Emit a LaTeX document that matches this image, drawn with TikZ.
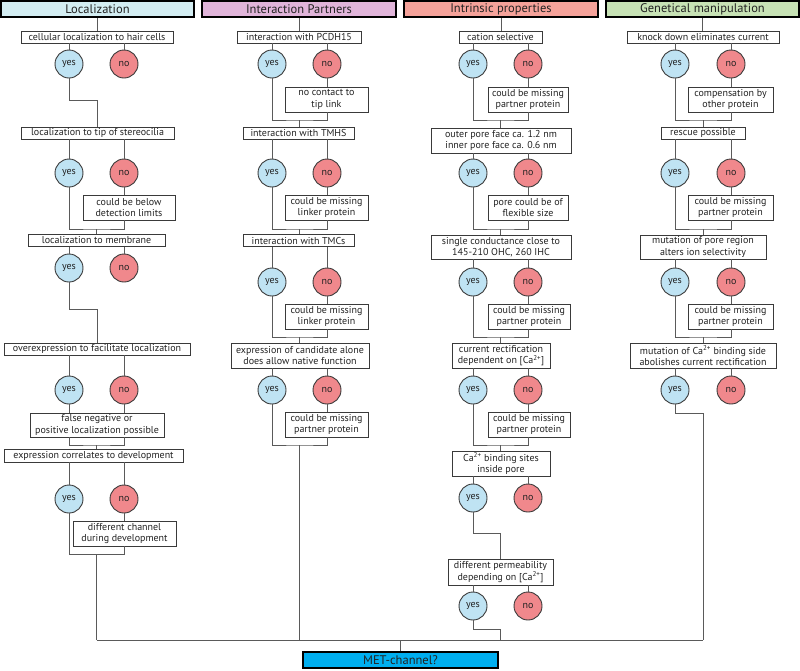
\documentclass[tikz,border=0pt]{standalone}
\usepackage{fontspec}
\setmainfont{PT Sans}
\definecolor{hLoc}{HTML}{D3EDF2}
\definecolor{hInt}{HTML}{E0B4D9}
\definecolor{hPro}{HTML}{F5A29A}
\definecolor{hGen}{HTML}{C7E2B5}
\definecolor{metc}{HTML}{00AEEF}
\definecolor{yesc}{HTML}{BFE3F3}
\definecolor{noc}{HTML}{F0888C}
\definecolor{wirec}{HTML}{5A5A5A}
\definecolor{boxc}{HTML}{3A3A3A}
\definecolor{txt}{HTML}{222222}
\newcommand{\bfs}{\fontsize{10}{11.5}\selectfont}
\newcommand{\hfs}{\fontsize{12.5}{14}\selectfont}
\newcommand{\cafs}{Ca\textsuperscript{2+}}
\tikzset{
  box/.style={draw=boxc, line width=0.9pt, fill=white, inner sep=0pt, align=center, font=\bfs, text=txt},
  hdr/.style={draw=black, line width=2pt, inner sep=0pt, font=\hfs, text=txt, minimum height=16pt},
  yesn/.style={circle, draw=boxc, line width=0.9pt, fill=yesc, minimum size=28pt, inner sep=0pt, font=\bfs, text=txt},
  non/.style={circle, draw=boxc, line width=0.9pt, fill=noc, minimum size=28pt, inner sep=0pt, font=\bfs, text=txt},
  wire/.style={draw=wirec, line width=1pt}
}
\begin{document}
\begin{tikzpicture}[x=1pt,y=-1pt]
\useasboundingbox (0,0) rectangle (800,670);
% ---------- headers ----------
\node[hdr, fill=hLoc, minimum width=193pt] (hL) at (97.5,9) {Localization};
\node[hdr, fill=hInt, minimum width=194pt] (hI) at (299,9) {Interaction Partners};
\node[hdr, fill=hPro, minimum width=194pt] (hP) at (501,9) {Intrinsic properties};
\node[hdr, fill=hGen, minimum width=193pt] (hG) at (702.5,9) {Genetical manipulation};
\node[hdr, fill=metc, minimum width=195pt] (MET) at (400.5,660) {MET-channel?};

% ---------- column 1: Localization ----------
\node[box, minimum width=152pt, minimum height=12pt] (L1) at (97,37) {cellular localization to hair cells};
\node[yesn] (L1y) at (69,64) {yes};
\node[non] (L1o) at (124,64) {no};
\node[box, minimum width=153pt, minimum height=12pt] (L2) at (97.5,133) {localization to tip of stereocilia};
\node[yesn] (L2y) at (69,173) {yes};
\node[non] (L2o) at (124,173) {no};
\node[box, minimum width=92pt, minimum height=25pt] (L2x) at (129,207.5) {could be below\\detection limits};
\node[box, minimum width=137pt, minimum height=12pt] (L3) at (96.5,240.5) {localization to membrane};
\node[yesn] (L3y) at (69,268) {yes};
\node[non] (L3o) at (124,268) {no};
\node[box, minimum width=186pt, minimum height=12pt] (L4) at (97,349) {overexpression to facilitate localization};
\node[yesn] (L4y) at (69,390) {yes};
\node[non] (L4o) at (124,390) {no};
\node[box, minimum width=134pt, minimum height=24pt] (L4x) at (97,425) {false negative or\\positive localization possible};
\node[box, minimum width=179pt, minimum height=13pt] (L5) at (93.5,455.5) {expression correlates to development};
\node[yesn] (L5y) at (69,499) {yes};
\node[non] (L5o) at (124,499) {no};
\node[box, minimum width=103pt, minimum height=25pt] (L5x) at (124.5,533.5) {different channel\\during development};

\draw[wire] (hL.south) -- (hL.south |- L1.north);
\draw[wire] (L1y.north |- L1.south) -- (L1y.north);
\draw[wire] (L1o.north |- L1.south) -- (L1o.north);
\coordinate (c1a) at (97.5,100);
\draw[wire] (L1y.south) |- (c1a) -- (c1a |- L2.north);
\draw[wire] (L2y.north |- L2.south) -- (L2y.north);
\draw[wire] (L2o.north |- L2.south) -- (L2o.north);
\draw[wire] (L2o.south) -- (L2o.south |- L2x.north);
\coordinate (c1b) at (96.5,229);
\draw[wire] (L2y.south) |- (c1b) -| (L2o.south |- L2x.south);
\draw[wire] (c1b) -- (c1b |- L3.north);
\draw[wire] (L3y.north |- L3.south) -- (L3y.north);
\draw[wire] (L3o.north |- L3.south) -- (L3o.north);
\coordinate (c1c) at (97,309);
\draw[wire] (L3y.south) |- (c1c) -- (c1c |- L4.north);
\draw[wire] (L4y.north |- L4.south) -- (L4y.north);
\draw[wire] (L4o.north |- L4.south) -- (L4o.north);
\draw[wire] (L4y.south) -- (L4y.south |- L4x.north);
\draw[wire] (L4o.south) -- (L4o.south |- L4x.north);
\coordinate (c1d) at (96.5,445);
\draw[wire] (L4y.south |- L4x.south) |- (c1d) -| (L4o.south |- L4x.south);
\draw[wire] (c1d) -- (c1d |- L5.north);
\draw[wire] (L5y.north |- L5.south) -- (L5y.north);
\draw[wire] (L5o.north |- L5.south) -- (L5o.north);
\draw[wire] (L5o.south) -- (L5o.south |- L5x.north);
\coordinate (c1e) at (96.5,554);
\draw[wire] (L5y.south) |- (c1e) -| (L5o.south |- L5x.south);
\coordinate (bus1) at (96.5,640);
\draw[wire] (c1e) -- (bus1);

% ---------- column 2: Interaction Partners ----------
\node[box, minimum width=124pt, minimum height=12pt] (I1) at (299,37) {interaction with PCDH15};
\node[yesn] (I1y) at (272,64) {yes};
\node[non] (I1o) at (327,64) {no};
\node[box, minimum width=83pt, minimum height=25pt] (I1x) at (326.5,99.5) {no contact to\\tip link};
\node[box, minimum width=111pt, minimum height=12pt] (I2) at (298.5,133) {interaction with TMHS};
\node[yesn] (I2y) at (272,173) {yes};
\node[non] (I2o) at (327,173) {no};
\node[box, minimum width=83pt, minimum height=25pt] (I2x) at (326.5,207.5) {could be missing\\linker protein};
\node[box, minimum width=111pt, minimum height=12pt] (I3) at (298.5,240.5) {interaction with TMCs};
\node[yesn] (I3y) at (272,282) {yes};
\node[non] (I3o) at (327,282) {no};
\node[box, minimum width=83pt, minimum height=25pt] (I3x) at (326.5,316.5) {could be missing\\linker protein};
\node[box, minimum width=138pt, minimum height=25pt] (I4) at (300,355.5) {expression of candidate alone\\does allow native function};
\node[yesn] (I4y) at (272,390) {yes};
\node[non] (I4o) at (327,390) {no};
\node[box, minimum width=83pt, minimum height=25pt] (I4x) at (326.5,424.5) {could be missing\\partner protein};

\draw[wire] (hI.south) -- (hI.south |- I1.north);
\draw[wire] (I1y.north |- I1.south) -- (I1y.north);
\draw[wire] (I1o.north |- I1.south) -- (I1o.north);
\draw[wire] (I1o.south) -- (I1o.south |- I1x.north);
\coordinate (c2a) at (299.5,120);
\draw[wire] (I1y.south) |- (c2a) -| (I1o.south |- I1x.south);
\draw[wire] (c2a) -- (c2a |- I2.north);
\draw[wire] (I2y.north |- I2.south) -- (I2y.north);
\draw[wire] (I2o.north |- I2.south) -- (I2o.north);
\draw[wire] (I2o.south) -- (I2o.south |- I2x.north);
\coordinate (c2b) at (299.5,229);
\draw[wire] (I2y.south) |- (c2b) -| (I2o.south |- I2x.south);
\draw[wire] (c2b) -- (c2b |- I3.north);
\draw[wire] (I3y.north |- I3.south) -- (I3y.north);
\draw[wire] (I3o.north |- I3.south) -- (I3o.north);
\draw[wire] (I3o.south) -- (I3o.south |- I3x.north);
\coordinate (c2c) at (299.5,337);
\draw[wire] (I3y.south) |- (c2c) -| (I3o.south |- I3x.south);
\draw[wire] (c2c) -- (c2c |- I4.north);
\draw[wire] (I4y.north |- I4.south) -- (I4y.north);
\draw[wire] (I4o.north |- I4.south) -- (I4o.north);
\draw[wire] (I4o.south) -- (I4o.south |- I4x.north);
\coordinate (c2d) at (299.5,445);
\draw[wire] (I4y.south) |- (c2d) -| (I4o.south |- I4x.south);
\coordinate (bus2) at (299.5,640);
\draw[wire] (c2d) -- (bus2);

% ---------- column 3: Intrinsic properties ----------
\node[box, minimum width=83pt, minimum height=12pt] (P1) at (500.5,37) {cation selective};
\node[yesn] (P1y) at (473,64) {yes};
\node[non] (P1o) at (528,64) {no};
\node[box, minimum width=80pt, minimum height=25pt] (P1x) at (528,99.5) {could be missing\\partner protein};
\node[box, minimum width=140pt, minimum height=25pt] (P2) at (501,140.5) {outer pore face ca. 1.2 nm\\inner pore face ca. 0.6 nm};
\node[yesn] (P2y) at (473,173) {yes};
\node[non] (P2o) at (528,173) {no};
\node[box, minimum width=80pt, minimum height=25pt] (P2x) at (528,207.5) {pore could be of\\flexible size};
\node[box, minimum width=140pt, minimum height=24pt] (P3) at (501,247) {single conductance close to\\145-210 OHC, 260 IHC};
\node[yesn] (P3y) at (473,282) {yes};
\node[non] (P3o) at (528,282) {no};
\node[box, minimum width=82pt, minimum height=25pt] (P3x) at (529,316.5) {could be missing\\partner protein};
\node[box, minimum width=98pt, minimum height=25pt] (P4) at (501,355.5) {current rectification\\dependent on [\cafs]};
\node[yesn] (P4y) at (473,390) {yes};
\node[non] (P4o) at (528,390) {no};
\node[box, minimum width=82pt, minimum height=25pt] (P4x) at (529,424.5) {could be missing\\partner protein};
\node[box, minimum width=98pt, minimum height=25pt] (P5) at (501,463.5) {\cafs{} binding sites\\inside pore};
\node[yesn] (P5y) at (473,498) {yes};
\node[non] (P5o) at (528,498) {no};
\node[box, minimum width=105pt, minimum height=26pt] (P6) at (500.5,572) {different permeability\\depending on [\cafs]};
\node[yesn] (P6y) at (473,606) {yes};
\node[non] (P6o) at (528,606) {no};

\draw[wire] (hP.south) -- (hP.south |- P1.north);
\draw[wire] (P1y.north |- P1.south) -- (P1y.north);
\draw[wire] (P1o.north |- P1.south) -- (P1o.north);
\draw[wire] (P1o.south) -- (P1o.south |- P1x.north);
\coordinate (c3a) at (500.5,120);
\draw[wire] (P1y.south) |- (c3a) -| (P1o.south |- P1x.south);
\draw[wire] (c3a) -- (c3a |- P2.north);
\draw[wire] (P2y.north |- P2.south) -- (P2y.north);
\draw[wire] (P2o.north |- P2.south) -- (P2o.north);
\draw[wire] (P2o.south) -- (P2o.south |- P2x.north);
\coordinate (c3b) at (500.5,229);
\draw[wire] (P2y.south) |- (c3b) -| (P2o.south |- P2x.south);
\draw[wire] (c3b) -- (c3b |- P3.north);
\draw[wire] (P3y.north |- P3.south) -- (P3y.north);
\draw[wire] (P3o.north |- P3.south) -- (P3o.north);
\draw[wire] (P3o.south) -- (P3o.south |- P3x.north);
\coordinate (c3c) at (500.5,337);
\draw[wire] (P3y.south) |- (c3c) -| (P3o.south |- P3x.south);
\draw[wire] (c3c) -- (c3c |- P4.north);
\draw[wire] (P4y.north |- P4.south) -- (P4y.north);
\draw[wire] (P4o.north |- P4.south) -- (P4o.north);
\draw[wire] (P4o.south) -- (P4o.south |- P4x.north);
\coordinate (c3d) at (500.5,445);
\draw[wire] (P4y.south) |- (c3d) -| (P4o.south |- P4x.south);
\draw[wire] (c3d) -- (c3d |- P5.north);
\draw[wire] (P5y.north |- P5.south) -- (P5y.north);
\draw[wire] (P5o.north |- P5.south) -- (P5o.north);
\coordinate (c3e) at (500.5,533);
\draw[wire] (P5y.south) |- (c3e) -- (c3e |- P6.north);
\draw[wire] (P6y.north |- P6.south) -- (P6y.north);
\draw[wire] (P6o.north |- P6.south) -- (P6o.north);
\coordinate (c3f) at (500.5,629);
\coordinate (bus3) at (500.5,640);
\draw[wire] (P6y.south) |- (c3f) -- (bus3);

% ---------- column 4: Genetical manipulation ----------
\node[box, minimum width=152pt, minimum height=12pt] (G1) at (703,37) {knock down eliminates current};
\node[yesn] (G1y) at (675,64) {yes};
\node[non] (G1o) at (731,64) {no};
\node[box, minimum width=85pt, minimum height=25pt] (G1x) at (730.5,99.5) {compensation by\\other protein};
\node[box, minimum width=84pt, minimum height=12pt] (G2) at (703,133) {rescue possible};
\node[yesn] (G2y) at (675,173) {yes};
\node[non] (G2o) at (731,173) {no};
\node[box, minimum width=85pt, minimum height=25pt] (G2x) at (730.5,207.5) {could be missing\\partner protein};
\node[box, minimum width=126pt, minimum height=24pt] (G3) at (703,247) {mutation of pore region\\alters ion selectivity};
\node[yesn] (G3y) at (675,282) {yes};
\node[non] (G3o) at (731,282) {no};
\node[box, minimum width=85pt, minimum height=25pt] (G3x) at (730.5,316.5) {could be missing\\partner protein};
\node[box, minimum width=146pt, minimum height=25pt] (G4) at (703,355.5) {mutation of \cafs{} binding side\\abolishes current rectification};
\node[yesn] (G4y) at (675,390) {yes};
\node[non] (G4o) at (731,390) {no};

\draw[wire] (hG.south) -- (hG.south |- G1.north);
\draw[wire] (G1y.north |- G1.south) -- (G1y.north);
\draw[wire] (G1o.north |- G1.south) -- (G1o.north);
\draw[wire] (G1o.south) -- (G1o.south |- G1x.north);
\coordinate (c4a) at (703,120);
\draw[wire] (G1y.south) |- (c4a) -| (G1o.south |- G1x.south);
\draw[wire] (c4a) -- (c4a |- G2.north);
\draw[wire] (G2y.north |- G2.south) -- (G2y.north);
\draw[wire] (G2o.north |- G2.south) -- (G2o.north);
\draw[wire] (G2o.south) -- (G2o.south |- G2x.north);
\coordinate (c4b) at (703,229);
\draw[wire] (G2y.south) |- (c4b) -| (G2o.south |- G2x.south);
\draw[wire] (c4b) -- (c4b |- G3.north);
\draw[wire] (G3y.north |- G3.south) -- (G3y.north);
\draw[wire] (G3o.north |- G3.south) -- (G3o.north);
\draw[wire] (G3o.south) -- (G3o.south |- G3x.north);
\coordinate (c4c) at (703,337);
\draw[wire] (G3y.south) |- (c4c) -| (G3o.south |- G3x.south);
\draw[wire] (c4c) -- (c4c |- G4.north);
\draw[wire] (G4y.north |- G4.south) -- (G4y.north);
\draw[wire] (G4o.north |- G4.south) -- (G4o.north);
\coordinate (c4d) at (703,413);
\coordinate (bus4) at (703,640);
\draw[wire] (G4y.south) |- (c4d) -- (bus4);

% ---------- bus to MET ----------
\draw[wire] (bus1) -- (bus4);
\draw[wire] (MET.north |- bus1) -- (MET.north);
\end{tikzpicture}
\end{document}
